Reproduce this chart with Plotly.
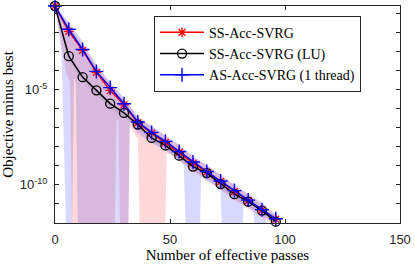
import numpy as np
import plotly.graph_objects as go

# ---- data (objective values given as log10 exponents) ----
passes = [0, 6, 12, 18, 24, 30, 36, 42, 48, 54, 60, 66, 72, 78, 84, 90, 96]

ss_exp = [-0.62, -1.95, -2.95, -4.10, -5.05, -5.80, -6.75, -7.28, -7.77, -8.30,
          -8.86, -9.33, -9.83, -10.35, -10.84, -11.32, -11.80]
lu_exp = [-0.62, -3.25, -4.35, -5.04, -5.74, -6.23, -6.84, -7.54, -7.93, -8.47,
          -9.04, -9.38, -9.96, -10.49, -10.88, -11.35, -11.93]
as_exp = [-0.62, -1.84, -2.90, -4.05, -4.90, -5.75, -6.70, -7.25, -7.72, -8.25,
          -8.80, -9.30, -9.80, -10.30, -10.80, -11.30, -11.78]

# shaded ranges (upper on the passes grid, lower on its own grid)
ss_hi_exp = [-0.62, -1.60, -2.60, -3.75, -4.70, -5.50, -6.45, -6.95, -7.45, -7.95,
             -8.55, -9.00, -9.50, -10.05, -10.50, -11.00, -11.60]
ss_lo_x = [0, 3, 5, 6.5, 7.8, 25.5, 26.8, 27.5, 28.8, 31.5, 32.5, 36, 37.5, 47.5,
           48.5, 54, 60, 66, 72, 78, 84, 90, 96]
ss_lo_exp = [-0.62, -2.8, -4.2, -4.6, -16, -16, -6.6, -6.6, -16, -16, -6.9, -7.6, -16, -16,
             -8.3, -8.7, -9.3, -9.75, -10.25, -10.8, -11.25, -11.7, -12.1]

as_hi_exp = [-0.62, -1.45, -2.50, -3.70, -4.60, -5.45, -6.40, -6.90, -7.40, -7.90,
             -8.50, -8.95, -9.45, -10.00, -10.45, -10.95, -11.55]
as_lo_x = [0, 2.8, 5.6, 7.0, 8.3, 9.0, 10.4, 31.5, 32.5, 36, 42, 48, 54, 56, 57.8, 62.5,
           63.5, 66, 72, 73.5, 80.5, 82, 86.5, 87.5, 90.8, 91.8, 96]
as_lo_exp = [-0.62, -3.0, -16, -16, -4.4, -4.6, -16, -16, -6.6, -7.3, -7.8, -8.2, -8.7, -9.0,
             -16, -16, -9.6, -9.8, -10.2, -16, -16, -11.0, -11.4, -16, -16, -11.6, -12.2]

lu_hi_exp = [-0.62, -3.10, -4.25, -4.95, -5.65, -6.15, -6.75, -7.45, -7.85, -8.35,
             -8.95, -9.30, -9.85, -10.40, -10.80, -11.25, -11.85]
lu_lo_exp = [-0.62, -3.45, -4.55, -5.30, -6.00, -6.45, -7.05, -7.75, -8.15, -8.70,
             -9.25, -9.60, -10.20, -10.70, -11.10, -11.55, -12.15]

x_ticks = [0, 50, 100, 150]
y_tick_vals = [1e-5, 1e-10]
y_tick_text = ["10<sup>-5</sup>", "10<sup>-10</sup>"]
y_minor_vals = [1e-1, 1e-2, 1e-3, 1e-4, 1e-6, 1e-7, 1e-8, 1e-9, 1e-11, 1e-12]

names = ["SS-Acc-SVRG", "SS-Acc-SVRG (LU)", "AS-Acc-SVRG (1 thread)"]
# --------------------------------------------------------------------------------


def v(e):
    return (10.0 ** np.asarray(e, dtype=float)).tolist()


def band(x_hi, hi, x_lo, lo, color):
    xs = list(x_hi) + list(x_lo)[::-1]
    ys = v(hi) + v(lo)[::-1]
    return go.Scatter(x=xs, y=ys, fill="toself", fillcolor=color, mode="lines",
                      line=dict(width=0), hoverinfo="skip", showlegend=False)


fig = go.Figure()
fig.add_trace(band(passes, ss_hi_exp, ss_lo_x, ss_lo_exp, "rgba(255,0,0,0.15)"))
fig.add_trace(band(passes, lu_hi_exp, passes, lu_lo_exp, "rgba(0,0,0,0.08)"))
fig.add_trace(band(passes, as_hi_exp, as_lo_x, as_lo_exp, "rgba(0,0,255,0.15)"))

fig.add_trace(go.Scatter(
    x=passes, y=v(ss_exp), name=names[0], mode="lines+markers", cliponaxis=False,
    line=dict(color="rgb(255,0,0)", width=1.5),
    marker=dict(symbol="asterisk-open", size=8, color="rgb(255,0,0)",
                line=dict(color="rgb(255,0,0)", width=1.3))))
fig.add_trace(go.Scatter(
    x=passes, y=v(lu_exp), name=names[1], mode="lines+markers", cliponaxis=False,
    line=dict(color="black", width=1.5),
    marker=dict(symbol="circle-open", size=9, color="black",
                line=dict(color="black", width=1.3))))
fig.add_trace(go.Scatter(
    x=passes, y=v(as_exp), name=names[2], mode="lines+markers", cliponaxis=False,
    line=dict(color="rgb(0,0,255)", width=1.5),
    marker=dict(symbol="cross-thin-open", size=10, color="rgb(0,0,255)",
                line=dict(color="rgb(0,0,255)", width=1.4))))

axcol = "rgb(38,38,38)"
tickfont = dict(family="Liberation Sans, Arial, sans-serif", size=13, color=axcol)
serif = "Liberation Serif, Times New Roman, serif"

fig.update_layout(
    width=415, height=265,
    margin=dict(l=55, r=15, t=6, b=42, autoexpand=False),
    paper_bgcolor="white", plot_bgcolor="white",
    showlegend=True,
    legend=dict(x=0.287, y=0.955, xanchor="left", yanchor="top",
                bgcolor="white", bordercolor=axcol, borderwidth=1,
                font=dict(family=serif, size=14, color="black"),
                itemwidth=44, tracegroupgap=0),
    xaxis=dict(range=[0, 150], tickvals=x_ticks, ticks="inside", ticklen=4,
               tickcolor=axcol, showline=True, linecolor=axcol, linewidth=1,
               mirror="ticks", showgrid=False, zeroline=False, tickfont=tickfont,
               ticklabelstandoff=4, automargin=False,
               title=dict(text="Number of effective passes",
                          font=dict(family=serif, size=15, color="black"), standoff=2)),
    yaxis=dict(type="log", range=[-12, -0.62], tickvals=y_tick_vals, ticktext=y_tick_text,
               ticks="inside", ticklen=4, tickcolor=axcol, showline=True,
               linecolor=axcol, linewidth=1, mirror="ticks", showgrid=False,
               zeroline=False, tickfont=tickfont, ticklabelstandoff=4, automargin=False,
               minor=dict(tickvals=y_minor_vals, ticks="inside", ticklen=4,
                          tickcolor=axcol, showgrid=False),
               title=dict(text="Objective minus best",
                          font=dict(family=serif, size=15, color="black"), standoff=4)),
)

fig.write_html("out.html", config={"displayModeBar": False},
               post_script="document.body.style.margin='0';document.body.style.padding='0';")
